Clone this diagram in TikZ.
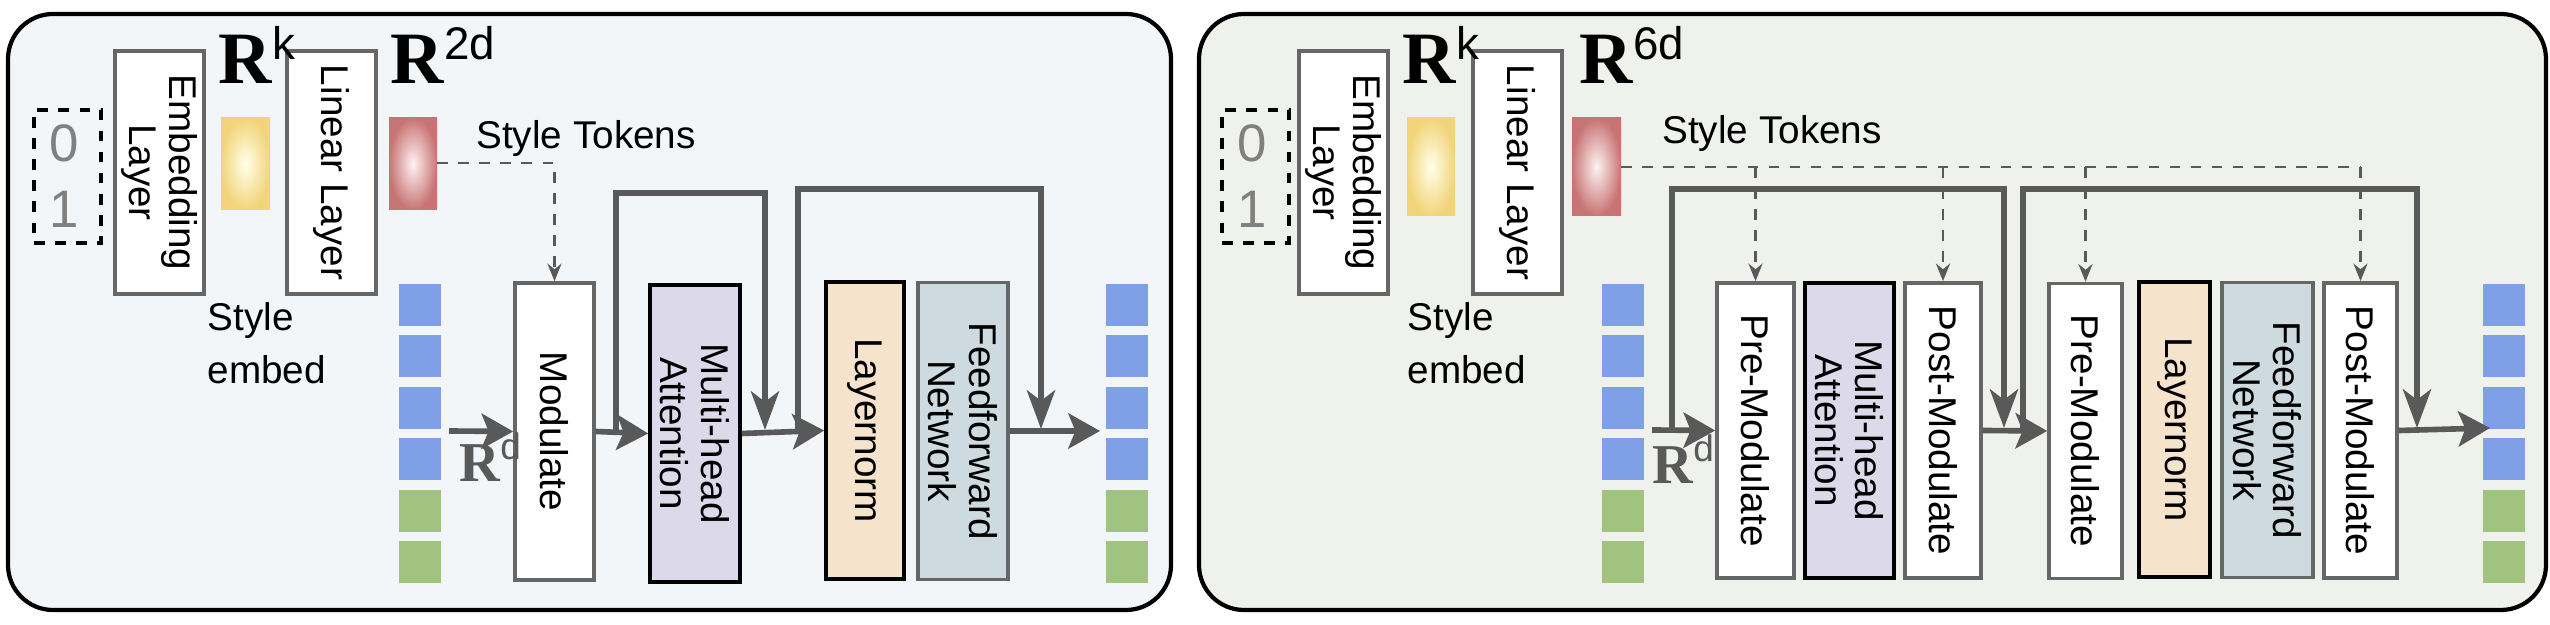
\documentclass[tikz,border=0pt]{standalone}
\usepackage{fontspec}
\setmainfont{Liberation Sans}
\newfontfamily\rfont{Liberation Serif}
\usetikzlibrary{arrows.meta,positioning,calc}
\definecolor{panelA}{HTML}{F2F6F9}
\definecolor{panelB}{HTML}{EFF1EC}
\definecolor{tokblue}{HTML}{7F9FE6}
\definecolor{tokgreen}{HTML}{A0C47F}
\definecolor{mhafill}{HTML}{DCD9EA}
\definecolor{lnfill}{HTML}{F5E3CC}
\definecolor{ffnfill}{HTML}{CDDBE0}
\definecolor{arrgray}{HTML}{595959}
\newcommand{\Rdim}[1]{{\rfont\bfseries\fontsize{21}{21}\selectfont R}\raisebox{1.3ex}{\fontsize{13}{13}\selectfont #1}}
\newcommand{\Rsmall}[1]{{\rfont\bfseries\fontsize{16}{16}\selectfont R}\raisebox{1.2ex}{\fontsize{10.5}{10.5}\selectfont #1}}
\tikzset{
  panel/.style={draw=black,line width=1.2pt,rounded corners=0.45cm},
  blk/.style={draw=gray!80!black,line width=1pt,fill=white,inner sep=0pt},
  rot/.style={rotate=-90,align=center,font=\fontsize{11}{11.5}\selectfont},
  token/.style={minimum width=0.42cm,minimum height=0.42cm,inner sep=0pt},
  main/.style={draw=arrgray,line width=1.6pt,-{Stealth[length=9pt,width=10pt,inset=2pt]}},
  res/.style={draw=arrgray,line width=1.6pt,-{Stealth[length=11pt,width=8pt,inset=3pt]}},
  tok/.style={draw=arrgray,dashed,line width=0.7pt,-{Stealth[length=5pt,width=4pt]}},
  tokline/.style={draw=arrgray,dashed,line width=0.7pt},
  txt/.style={font=\fontsize{11}{12}\selectfont},
}
\begin{document}
\begin{tikzpicture}[x=0.01cm,y=-0.01cm]
\useasboundingbox (0,0) rectangle (2550,625);
% panels
\draw[panel,fill=panelA] (8,14) rectangle (1171,610);
\draw[panel,fill=panelB] (1199,14) rectangle (2546,610);

%%% left panel
\node[draw,dashed,line width=1pt,minimum width=0.67cm,minimum height=1.33cm] (bitsA) at (67.5,176.5) {};
\node[text=gray,font=\fontsize{15}{15}\selectfont] at (64,143) {0};
\node[text=gray,font=\fontsize{15}{15}\selectfont] at (64,209) {1};
\node[blk,minimum width=0.89cm,minimum height=2.43cm,label={[rot]center:Embedding\\Layer}] (embA) at (159.5,172.5) {};
\node[blk,minimum width=0.89cm,minimum height=2.43cm,label={[rot]center:Linear Layer}] (linA) at (331.5,172.5) {};
\node[anchor=base west,inner sep=0pt] at (218,84) {\Rdim{k}};
\node[anchor=base west,inner sep=0pt] at (390,84) {\Rdim{2d}};
\path[shading=radial,inner color=yellow!8,outer color={rgb,255:red,242;green,213;blue,122}] (221,118) rectangle (270,210);
\path[shading=radial,inner color=red!5,outer color={rgb,255:red,200;green,116;blue,116}] (389,118) rectangle (437,210);
\coordinate (redA) at (437,163);
\node[txt,anchor=west] at (464,139) {Style Tokens};
\node[txt,anchor=north west,align=left,inner sep=0pt] at (207,302) {Style\\[3pt]embed};

\foreach \i in {1,...,6}{
  \ifnum\i<5 \def\c{tokblue}\else\def\c{tokgreen}\fi
  \node[token,fill=\c] (tinA\i) at (420,305+51.4*\i-51.4) {};
  \node[token,fill=\c] (toutA\i) at (1127,305+51.4*\i-51.4) {};
}

\node[blk,minimum width=0.79cm,minimum height=2.97cm,label={[rot]center:Modulate}] (modA) at (554.5,431.5) {};
\node[blk,draw=black,fill=mhafill,minimum width=0.9cm,minimum height=2.97cm,label={[rot]center:Multi-head\\Attention}] (mhaA) at (695,433.5) {};
\node[blk,draw=black,fill=lnfill,minimum width=0.78cm,minimum height=2.97cm,label={[rot]center:Layernorm}] (lnA) at (865,430.5) {};
\node[blk,fill=ffnfill,minimum width=0.9cm,minimum height=2.97cm,label={[rot]center:Feedforward\\Network}] (ffnA) at (963,431) {};

\coordinate (inA) at (449,431);
\coordinate (outA) at (1100,431);
\draw[main] (inA) -- (modA.west);
\draw[main] (modA.east) -- (mhaA.west);
\draw[main] (mhaA.east) -- (lnA.west);
\draw[main] (ffnA.east) -- (outA);
\node[text=arrgray,anchor=base west,inner sep=0pt] at (459,482) {\Rsmall{d}};
% residuals
\coordinate (sA1) at (616,431); \coordinate (tA1) at (765,193); \coordinate (eA1) at (765,430);
\coordinate (sA2) at (798,431); \coordinate (tA2) at (1041,189); \coordinate (eA2) at (1041,429);
\draw[res] (sA1) |- (tA1) -- (eA1);
\draw[res] (sA2) |- (tA2) -- (eA2);
\draw[tok] (redA) -| (modA.north);

%%% right panel
\node[draw,dashed,line width=1pt,minimum width=0.67cm,minimum height=1.33cm] (bitsB) at (1255.5,176.5) {};
\node[text=gray,font=\fontsize{15}{15}\selectfont] at (1252,143) {0};
\node[text=gray,font=\fontsize{15}{15}\selectfont] at (1252,209) {1};
\node[blk,minimum width=0.89cm,minimum height=2.43cm,label={[rot]center:Embedding\\Layer}] (embB) at (1343.5,172.5) {};
\node[blk,minimum width=0.89cm,minimum height=2.43cm,label={[rot]center:Linear Layer}] (linB) at (1517.5,172.5) {};
\node[anchor=base west,inner sep=0pt] at (1402,84) {\Rdim{k}};
\node[anchor=base west,inner sep=0pt] at (1579,84) {\Rdim{6d}};
\path[shading=radial,inner color=yellow!8,outer color={rgb,255:red,242;green,213;blue,122}] (1407,118) rectangle (1455,216);
\path[shading=radial,inner color=red!5,outer color={rgb,255:red,200;green,116;blue,116}] (1572,118) rectangle (1621,216);
\coordinate (redB) at (1621,167);
\node[txt,anchor=west] at (1650,134) {Style Tokens};
\node[txt,anchor=north west,align=left,inner sep=0pt] at (1407,302) {Style\\[3pt]embed};

\foreach \i in {1,...,6}{
  \ifnum\i<5 \def\c{tokblue}\else\def\c{tokgreen}\fi
  \node[token,fill=\c] (tinB\i) at (1623,305+51.4*\i-51.4) {};
  \node[token,fill=\c] (toutB\i) at (2504,305+51.4*\i-51.4) {};
}

\node[blk,minimum width=0.77cm,minimum height=2.95cm,label={[rot]center:Pre-Modulate}] (preB1) at (1755.5,430.5) {};
\node[blk,draw=black,fill=mhafill,minimum width=0.89cm,minimum height=2.95cm,label={[rot]center:Multi-head\\Attention}] (mhaB) at (1849.5,430.5) {};
\node[blk,minimum width=0.76cm,minimum height=2.95cm,label={[rot]center:Post-Modulate}] (postB1) at (1943,430.5) {};
\node[blk,minimum width=0.73cm,minimum height=2.95cm,label={[rot]center:Pre-Modulate}] (preB2) at (2085.5,431) {};
\node[blk,draw=black,fill=lnfill,minimum width=0.71cm,minimum height=2.95cm,label={[rot]center:Layernorm}] (lnB) at (2174.5,429.5) {};
\node[blk,fill=ffnfill,minimum width=0.91cm,minimum height=2.95cm,label={[rot]center:Feedforward\\Network}] (ffnB) at (2267.5,430) {};
\node[blk,minimum width=0.73cm,minimum height=2.95cm,label={[rot]center:Post-Modulate}] (postB2) at (2360.5,430.5) {};

\coordinate (inB) at (1652,430);
\coordinate (outB) at (2490,428);
\draw[main] (inB) -- (preB1.west);
\draw[main] (postB1.east) -- (preB2.west);
\draw[main] (postB2.east) -- (outB);
\node[text=arrgray,anchor=base west,inner sep=0pt] at (1652,484) {\Rsmall{d}};
% residuals
\coordinate (sB1) at (1672,430); \coordinate (tB1) at (2004,189); \coordinate (eB1) at (2004,428);
\coordinate (sB2) at (2023,430); \coordinate (tB2) at (2417,189); \coordinate (eB2) at (2417,428);
\draw[res] (sB1) |- (tB1) -- (eB1);
\draw[res] (sB2) |- (tB2) -- (eB2);
\coordinate (dB) at (2360,167);
\draw[tokline] (redB) -- (dB);
\foreach \b in {preB1,postB1,preB2,postB2}
  \draw[tok] (\b.north |- dB) -- (\b.north);
\end{tikzpicture}
\end{document}
